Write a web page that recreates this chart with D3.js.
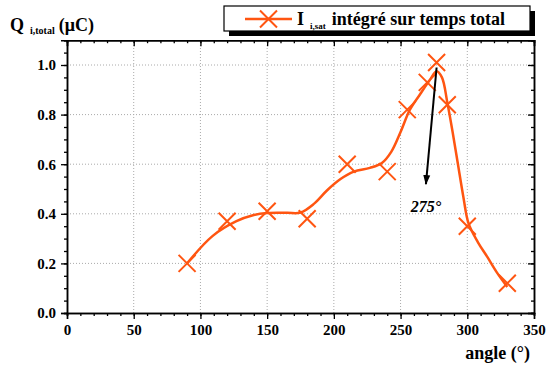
<!DOCTYPE html>
<html>
<head>
<meta charset="utf-8">
<script src="https://cdn.jsdelivr.net/npm/d3@7"></script>
<style>
  body { margin: 0; background: #fff; }
  svg text { font-family: "Liberation Serif", Tinos, "DejaVu Serif", serif; font-weight: bold; }
</style>
</head>
<body>
<div id="chart"></div>
<script>
// measured points
var angles = [90, 120, 150, 180, 210, 240, 255, 270, 277, 285, 300, 330];
var charge = [0.20, 0.37, 0.41, 0.38, 0.60, 0.57, 0.82, 0.93, 1.01, 0.84, 0.35, 0.12];

// smoothed curve as drawn in the figure
var fitAngles = [90, 109, 127, 140, 150, 165, 175, 185, 195, 205, 215, 227, 236, 243, 250, 257, 265, 272, 277, 281, 285, 289, 293, 297, 301, 308, 315, 322, 330];
var fitValues = [0.20, 0.31, 0.37, 0.395, 0.403, 0.404, 0.405, 0.44, 0.495, 0.54, 0.57, 0.585, 0.605, 0.65, 0.73, 0.82, 0.885, 0.94, 0.975, 0.95, 0.85, 0.73, 0.6, 0.47, 0.36, 0.285, 0.226, 0.165, 0.105];

var xTicks = [0, 50, 100, 150, 200, 250, 300, 350];
var yTicks = [0.0, 0.2, 0.4, 0.6, 0.8, 1.0];

var width = 547, height = 367;
var color = "#ff5511";
var serif = "'Liberation Serif', Tinos, 'DejaVu Serif', serif";

var svg = d3.select("#chart").append("svg")
  .attr("width", width)
  .attr("height", height);

var x = d3.scaleLinear().domain([0, 350]).range([67, 534]);
var y = d3.scaleLinear().domain([0, 1.1]).range([313, 40.2]);

// grid
var grid = svg.append("g").attr("class", "grid");
grid.selectAll("line.gx")
  .data(xTicks.slice(1, -1))
  .enter().append("line")
    .attr("x1", d => x(d)).attr("x2", d => x(d))
    .attr("y1", y(0)).attr("y2", y(1.1))
    .style("stroke", "#aaa").style("stroke-width", 1).style("stroke-dasharray", "1,2");
grid.selectAll("line.gy")
  .data(yTicks.slice(1))
  .enter().append("line")
    .attr("y1", d => y(d)).attr("y2", d => y(d))
    .attr("x1", x(0)).attr("x2", x(350))
    .style("stroke", "#aaa").style("stroke-width", 1).style("stroke-dasharray", "1,2");

// axes (left/bottom outward, right/top mirrored inward)
function styleAxis(g){
  g.select(".domain").style("stroke", "#000").style("stroke-width", 1.5);
  g.selectAll("line").style("stroke", "#000").style("stroke-width", 1.3);
}
var xMinor = d3.range(0, 351, 10);
var yMinor = d3.range(0, 1.1001, 0.05);

function addAxis(axisFn, scale, major, minor, transform, showLabels, inner){
  var gMinor = svg.append("g").attr("transform", transform)
    .call(axisFn(scale).tickValues(minor).tickSize(inner ? -3 : 3).tickFormat(""));
  styleAxis(gMinor);
  var g = svg.append("g").attr("transform", transform)
    .call(axisFn(scale).tickValues(major).tickSize(inner ? -6 : 6).tickPadding(5)
      .tickFormat(showLabels ? (axisFn === d3.axisLeft ? d3.format(".1f") : d3.format("d")) : ""));
  styleAxis(g);
  g.attr("font-family", serif);
  g.selectAll("text").style("font-size", "15px").style("font-weight", "bold").style("fill", "#000");
  return g;
}
addAxis(d3.axisBottom, x, xTicks, xMinor, "translate(0," + y(0) + ")", true, false);
// top axis: ticks pointing down into the plot
addAxis(d3.axisTop, x, xTicks, xMinor, "translate(0," + y(1.1) + ")", false, true);
addAxis(d3.axisLeft, y, yTicks, yMinor, "translate(" + x(0) + ",0)", true, false);
addAxis(d3.axisRight, y, yTicks, yMinor, "translate(" + x(350) + ",0)", false, true);

// smooth curve
var fitData = fitAngles.map((a, i) => ({a: a, v: fitValues[i]}));
var line = d3.line()
  .x(d => x(d.a))
  .y(d => y(d.v))
  .curve(d3.curveCatmullRom.alpha(0.5));
svg.append("path")
  .datum(fitData)
  .attr("d", line)
  .style("fill", "none")
  .style("stroke", color)
  .style("stroke-width", 2.5);

// X markers
var pts = angles.map((a, i) => ({a: a, v: charge[i]}));
var s = 8.5;
var cross = d => "M" + (-s) + "," + (-s) + "L" + s + "," + s + "M" + (-s) + "," + s + "L" + s + "," + (-s);
svg.append("g").selectAll("path")
  .data(pts)
  .enter().append("path")
    .attr("transform", d => "translate(" + x(d.a) + "," + y(d.v) + ")")
    .attr("d", cross)
    .style("stroke", color)
    .style("stroke-width", 2)
    .style("fill", "none");

// arrow to the peak
svg.append("defs").append("marker")
  .attr("id", "head")
  .attr("viewBox", "0 0 10 10")
  .attr("refX", 9).attr("refY", 5)
  .attr("markerWidth", 5).attr("markerHeight", 6)
  .attr("markerUnits", "strokeWidth")
  .attr("orient", "auto")
  .append("path").attr("d", "M0,1.5L10,5L0,8.5Z").style("fill", "#000");
svg.append("line")
  .attr("x1", x(277)).attr("y1", y(0.99))
  .attr("x2", x(269)).attr("y2", y(0.52))
  .style("stroke", "#000").style("stroke-width", 2)
  .attr("marker-end", "url(#head)");
svg.append("text")
  .attr("x", x(269)).attr("y", 212)
  .attr("text-anchor", "middle")
  .style("font-size", "16px").style("font-style", "italic")
  .text("275°");

// y title
var yt = svg.append("text").attr("x", 10).attr("y", 31).style("font-size", "18px");
yt.append("tspan").text("Q");
yt.append("tspan").attr("dx", 6).attr("dy", 3).style("font-size", "10px").text("i,total");
yt.append("tspan").attr("dx", 4).attr("dy", -3).text("(μC)");

// x title
svg.append("text")
  .attr("x", 530).attr("y", 359)
  .attr("text-anchor", "end")
  .style("font-size", "18px")
  .text("angle (°)");

// legend
var lg = svg.append("g");
lg.append("rect").attr("x", 229).attr("y", 11).attr("width", 306).attr("height", 25).style("fill", "#000");
lg.append("rect").attr("x", 224).attr("y", 6).attr("width", 306).attr("height", 25)
  .style("fill", "#fff").style("stroke", "#000").style("stroke-width", 1.2);
lg.append("line").attr("x1", 245).attr("x2", 292).attr("y1", 19).attr("y2", 19)
  .style("stroke", color).style("stroke-width", 2.5);
lg.append("path").attr("transform", "translate(268.5,19)").attr("d", cross)
  .style("stroke", color).style("stroke-width", 2).style("fill", "none");
var lt = lg.append("text").attr("x", 297).attr("y", 25).style("font-size", "18px");
lt.append("tspan").text("I");
lt.append("tspan").attr("dx", 6).attr("dy", 4).style("font-size", "9px").text("i,sat");
lt.append("tspan").attr("dx", 6).attr("dy", -4).text("intégré sur temps total");
</script>
</body>
</html>
